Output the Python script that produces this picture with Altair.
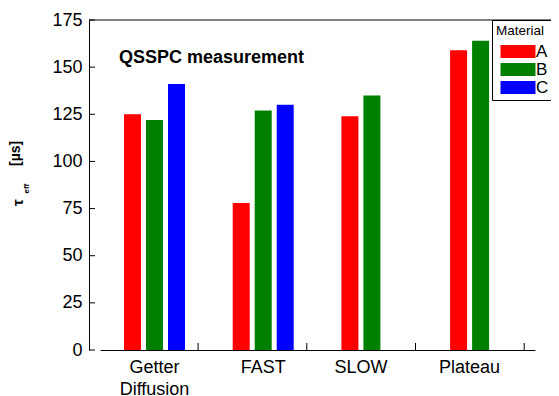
import altair as alt
import pandas as pd

categories = ["Getter Diffusion", "FAST", "SLOW", "Plateau"]
materials = ["A", "B", "C"]
values_A = [125, 78, 124, 159]
values_B = [122, 127, 135, 164]
values_C = [141, 130, None, None]
colors = ["#ff0000", "#008000", "#0000ff"]
y_ticks = [0, 25, 50, 75, 100, 125, 150, 175]

rows = []
for i, c in enumerate(categories):
    for m, vals in zip(materials, [values_A, values_B, values_C]):
        if vals[i] is not None:
            rows.append({"Category": c, "Material": m, "tau": vals[i]})
df = pd.DataFrame(rows)
cat_df = pd.DataFrame({"Category": categories})
tick_df = pd.DataFrame({"t": y_ticks})
one = pd.DataFrame({"a": [0]})

FONT = "Liberation Sans"
W, H = 462, 330
STEP = 108.7
# band layout: first band starts 11.15px right of the y axis
x_range = [11.15, 11.15 + 4 * STEP]

x_scale = alt.Scale(domain=categories, paddingInner=0, paddingOuter=0, range=x_range)
y_scale = alt.Scale(domain=[0, 175], nice=False, zero=True)

label_expr = "datum.value == 'Getter Diffusion' ? ['Getter', 'Diffusion'] : datum.value"

x_axis = alt.Axis(
    title=None, labelExpr=label_expr, ticks=False, labelAngle=0,
    labelFontSize=18, labelFont=FONT, labelColor="black",
    labelPadding=8.5, labelLineHeight=22, domainColor="black", domainWidth=1,
    labelOffset={"condition": {"test": "datum.value == 'SLOW' || datum.value == 'Plateau'", "value": -11}, "value": 0},
)
y_axis = alt.Axis(
    title=None, values=y_ticks, ticks=False, grid=False,
    labelFontSize=18, labelFont=FONT, labelColor="black", labelPadding=7,
    domainColor="black", domainWidth=1,
)

bars = alt.Chart(df).mark_bar().encode(
    x=alt.X("Category:N", scale=x_scale, sort=categories, axis=x_axis),
    xOffset=alt.XOffset("Material:N", scale=alt.Scale(domain=materials, paddingInner=0.2273, paddingOuter=0, range=[23.85, 84.85])),
    y=alt.Y("tau:Q", scale=y_scale, axis=y_axis),
    color=alt.Color(
        "Material:N", scale=alt.Scale(domain=materials, range=colors),
        legend=alt.Legend(
            title="Material", orient="none", legendX=403, legendY=0, direction="vertical",
            titleFontSize=13.5, titleFont=FONT, titleFontWeight="normal", titleColor="black",
            labelFontSize=17, labelFont=FONT, labelColor="black",
            symbolType="M-2,-0.743H2V0.743H-2Z", symbolSize=306, symbolStrokeWidth=0,
            symbolOpacity=1, strokeColor="black", fillColor="white", padding=4,
            rowPadding=1, symbolOffset=13, labelOffset=9,
        ),
    ),
)

xticks = alt.Chart(cat_df).mark_rule(color="black", strokeWidth=1).encode(
    x=alt.X("Category:N", scale=x_scale, sort=categories, bandPosition=0.901, axis=x_axis),
    y=alt.value(H), y2=alt.value(H - 7),
)

yticks = alt.Chart(tick_df).mark_rule(color="black", strokeWidth=1).encode(
    y=alt.Y("t:Q", scale=y_scale, axis=y_axis),
    x=alt.value(0), x2=alt.value(6),
)

top_line = alt.Chart(one).mark_rule(color="black", strokeWidth=1).encode(
    x=alt.value(0), x2=alt.value(W), y=alt.value(0),
)

annot = alt.Chart(one).mark_text(
    text="QSSPC measurement", font=FONT, fontSize=18, fontWeight="bold",
    align="left", baseline="alphabetic", color="black",
).encode(x=alt.value(30), y=alt.value(42.7))

tau = alt.Chart(one).mark_text(
    text="τ", font=FONT, fontSize=15, fontWeight="bold", angle=270,
    align="left", baseline="alphabetic", color="black",
).encode(x=alt.value(-66.5), y=alt.value(186))

eff = alt.Chart(one).mark_text(
    text="eff", font=FONT, fontSize=8, fontWeight="bold", angle=270,
    align="left", baseline="alphabetic", color="black",
).encode(x=alt.value(-60.3), y=alt.value(173.5))

unit = alt.Chart(one).mark_text(
    text="[µs]", font=FONT, fontSize=14, fontWeight="bold", angle=270,
    align="left", baseline="alphabetic", color="black",
).encode(x=alt.value(-69.5), y=alt.value(146))

chart = alt.layer(bars, xticks, yticks, top_line, annot, tau, eff, unit).properties(
    width=W, height=H,
    padding={"left": 81, "top": 12, "right": 0, "bottom": 46},
    autosize=alt.AutoSizeParams(type="none"),
).configure_view(stroke=None)

chart.save("out.html", embed_options={"renderer": "svg", "actions": False})
